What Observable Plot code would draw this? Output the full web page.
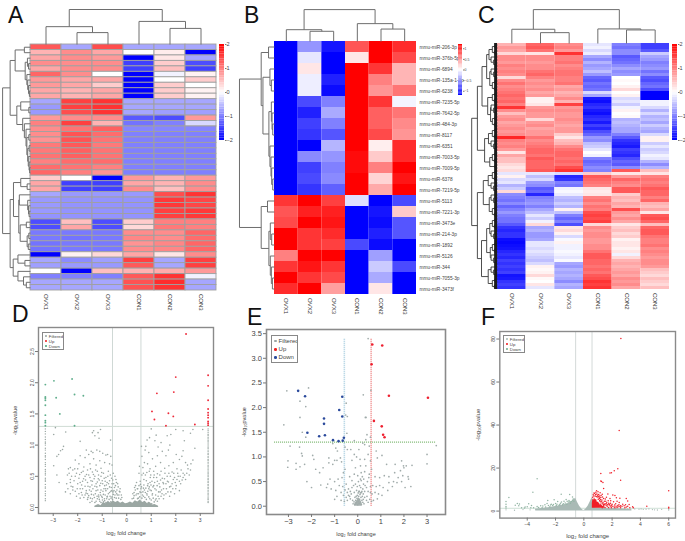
<!DOCTYPE html>
<html><head><meta charset="utf-8">
<style>
html,body{margin:0;padding:0;background:#fff;overflow:hidden}
#page{position:relative;width:685px;height:541px;font-family:"Liberation Sans",sans-serif;overflow:hidden}
.letter{position:absolute;font-size:23px;line-height:23px;color:#111}
.legend{position:absolute;border:1px solid #888;background:#fff;box-sizing:border-box;color:#444;padding:.5px 0 0 1px;white-space:nowrap;overflow:hidden}
.legend i{display:inline-block;border-radius:50%;margin:0 2px 0 1px;vertical-align:middle}
</style>
<script src="https://cdn.jsdelivr.net/npm/d3@7"></script>
<script src="https://cdn.jsdelivr.net/npm/@observablehq/plot@0.6"></script>
</head><body><div id="page"></div>
<script>
const samples = ["OVX1","OVX2","OVX3","CON1","CON2","CON3"];

// ---- Panel A values (rows x samples)
const heatA = [
[1.3,-.7,1.4,-.7,-.7,-.7],[.6,.9,.7,0,.15,-2],[.7,.9,.8,-2,.2,-.7],[.9,.9,.9,-1.5,.4,-1.4],[.7,.9,.9,-1.5,.5,-1.5],
[1.2,.9,0,-2,-.1,.1],[.8,.7,.7,-2,0,.4],[.8,.7,.4,-2,.4,0],[.7,.6,.7,-2,.4,.1],[.7,.6,.7,-2,.4,.1],
[-.7,1.5,1.6,-.7,-.7,-.7],[-.8,1.5,1.6,-.7,-.7,-.7],[-.8,1.4,1.6,-.7,-.75,-.75],
[.8,.9,.9,-1.3,-1.4,.8],[1,1.5,.6,-1.1,-1,-.3],
[.9,1.1,1.25,-.95,-.95,-.95],[.9,1.35,1.15,-1,-1,-1],[.85,1.35,1.1,-1,-1,-1],[1.05,1.3,1.05,-1,-1,-1],[1.05,1.25,1.1,-1,-1,-1],
[1.1,1.25,1.1,-1,-1,-1],[1,1.15,1.15,-1,-1,-1],[1.15,1.1,1,-1,-1,-1],[1.2,1,.85,-1,-1,-1],
[.4,0,-2,.8,.6,.8],[.7,-1.5,-1.5,.7,.6,.9],[.7,-1.5,-1.5,.9,.5,.9],
[-.7,-.8,-.8,-.8,1.4,1.6],[-.8,-.85,-.85,-.85,1.55,1.45],[-.8,-.85,-.85,-.85,1.55,1.45],[-.8,-.85,-.85,-.85,1.5,1.55],[-.85,-.85,-.85,-.85,1.5,1.55],
[-1.4,.5,-1.4,.4,1,1],[-1.4,.7,-1.4,.3,1.05,1],
[-1.05,-1.05,-1.05,.9,.9,1.2],[-1.05,-1.1,-1.05,.95,.9,1.15],[-1.1,-1.05,-1.05,.85,.95,1.2],[-1.1,-1.05,-1.05,.9,.95,1.2],
[-2,.1,.3,.7,.2,.9],[-.7,-.9,-.75,1.5,-.7,1.5],[-.75,-.8,-.8,1.3,-.7,1.5],[0,-2,.5,.6,.65,.8],
[-1,-1,-1,1.3,1.6,-.1],[-.7,-.7,-.7,1.35,1.65,-.7],[-.7,-.7,-.7,1.35,1.6,-.7]];

// ---- Panel B values
const mirnas = ["206-3p","376b-5p","6894","135a-1-3p","6238","7235-5p","7642-5p","484-3p","8117","6351","7003-5p","7009-5p","6378","7219-5p","5113","7221-3p","3473e","214-3p","1892","5126","344","7055-3p","3473f"];
const heatB = [
[-1.2,-.5,-1.1,.8,1.2,1],[-1.2,-.12,-1.2,.12,1.2,.85],[-1.2,.12,-1.2,1.2,.95,.35],[-1.2,-.08,-1.05,1.2,.6,.35],[-1.2,-.08,-1.15,1.2,.5,.65],
[-1.2,-.85,-.6,1.2,.95,-.05],[-1.2,-1.05,-.4,1.2,.75,.65],[-1.2,-.9,-.6,1.2,.75,.55],[-1.2,-.95,-.8,1.2,.85,.5],[-1.2,-1.2,-.35,1.2,.08,1],
[-1.2,-.55,-.5,1.15,.25,1],[-1.2,-.9,-.6,1.15,.6,1.2],[-1.2,-.85,-.55,1.2,.2,1.1],[-1.2,-.95,-.75,1.2,.4,1.2],
[.95,1.2,.9,-.15,-1.2,-.85],[.8,1.05,1.05,-1.2,-1.1,.25],[.85,1.2,1.1,-1.2,-1.15,-.8],[1.2,.95,1,-1.2,-1.05,-.8],[1.2,.95,.9,-.85,-1.15,-1.2],
[.6,1.2,1.2,-1.2,-.45,-1.2],[.95,1.1,.95,-1.2,-.25,-.85],[1.2,.95,.85,-1.2,-.4,-1.2],[1,1.2,.45,-1.2,.12,-1.2]];

// ---- Panel C values, one array per sample
const cOvx1 = [.6,.8,.7,.3,.9,.9,.8,1,.9,1,.9,.3,.9,1.1,.9,1,1.1,1.2,1.1,1.2,1,1.6,.9,.5,.8,.9,.7,.8,.9,.8,.9,1.7,1,.9,1,.8,.2,.7,.5,.5,.3,
.2,.3,-.2,.1,-.3,-.2,-.6,-.4,.3,-.9,-1,-1.1,-.9,-1.2,-1,-.8,-1,-1.1,-1.1,-1.3,-1.6,-1.7,-1.6,-1.6,-1.9,-1.95,-1.9,-1.85,-1.7,-1.6,-1.7,-1.5,-1.6,-1.5,-1.6,-1.5,-1.85,-1.8,-1.6,-1.5,-1.6];
const cOvx2 = [1.2,1.3,1.1,.2,.9,.9,.8,.9,.9,1.1,1.2,1,.8,.9,.8,.9,.7,.8,.1,.1,.2,.8,.9,.8,.8,.3,.8,.9,.7,.8,.8,1.1,.9,1,1.1,1.2,1.2,1.1,1.3,1.2,1.2,
1.2,1.3,-.2,-.5,-.3,-.8,-.9,-1.3,-1.2,-1.7,-1,-.9,-.8,-1,-.7,-.5,-.2,-.4,-.1,.3,-.7,-.6,-.8,-.8,-.7,-.2,-.2,-.3,-.2,-.3,-.4,-.5,-.3,.1,.05,.1,.3,.05,0,.2,-.2];
const cOvx3 = [.9,1,.8,1.6,1,1,1.1,.9,1,1.1,1.1,1,1,1.1,.7,.8,.6,.7,.9,.6,1.5,.8,.9,.8,.8,.9,.8,.7,.8,.8,.4,.2,.5,.6,.9,1.1,1.2,1.2,1.1,1.2,1.1,
1.4,1.6,-.3,-1.7,-1.6,-1,-1.1,-.1,-.05,-.15,-.5,-.6,-.4,-.6,.1,-.5,-1,-1.2,-1,-1.4,.2,.3,.1,-.3,-.05,.1,-.1,-.1,-.05,-.1,-.2,-.05,-.7,-.8,-.6,-.7,-.6,-.7,-.9,-.6,-.7];
const cCon1 = [-.2,-.1,-.3,-.15,-.7,-.9,-.6,-.8,-.7,-.5,-.8,-1.2,-1.3,-1.1,-1.2,-1.1,-.3,-.7,-1.8,-1.9,-1.7,-1.6,-1.8,-1.9,-1.7,-1.6,-1.8,-1.5,-1.7,-1.4,-1.2,-.8,-.9,-.5,-.4,-.2,0,-.1,-1,-1.2,-1.1,
-.9,-1,.4,1.3,1.2,1.1,1,.2,.15,.2,1,1.1,.9,1.1,1,1.4,1.5,1.4,1.5,.3,.9,.8,.9,.9,.8,.8,.9,.9,1.1,1.3,1.3,1.2,1.2,1.1,1.2,1.1,1.3,1.4,1.6,1.5,1.6];
const cCon2 = [-1,-1.1,-.9,-.9,-1.3,-1.2,-1.1,-.9,-.7,-.9,-.8,0,.05,0,.1,.3,0,.1,-.3,-.2,-.4,-.1,.1,0,.05,-.6,-.5,-.6,-.7,-.7,-1,-1.3,-1.6,-1.7,-1.8,-1.5,-1.6,-1.7,-1.4,-1.2,-1.3,
-.9,1.3,.2,.8,1.2,1,.9,1.3,1.3,.4,.6,.5,.7,.6,1.4,.8,.7,.9,.7,.2,.4,.5,.3,.4,.1,.2,.2,.1,.2,-.1,.3,.6,.7,.6,.7,.8,.7,.9,.8,.9,.7];
const cCon3 = [-1.5,-1.5,-1.3,-.4,-.7,-.8,-1,-.9,-.8,-1.1,-.9,-1.3,-1.4,-1.2,-1.1,-1.4,-2,-2,-2,-.1,-.1,-.3,-.6,-.3,-.6,-.5,-.7,-.4,-.6,-.7,-.3,.1,.1,-.4,-.2,-.4,-.3,-.1,-.2,-.6,-.9,
-.6,.5,.2,1,1.1,1,1.1,1.3,1.2,1.2,1,1.2,.6,.5,.7,.2,1.3,1.4,1.2,.5,1.2,1.3,1.3,1.1,1,1,1.1,.9,1,.9,.8,.9,.9,.8,.5,.4,.3,.5,.4,.3,.5];

// ---- Dendrograms: [height, left, right]; 0 is a leaf, height 1 is the root
const topA = [1,[.51,0,[.34,0,0]],[.66,0,[.46,0,0]]];
const topB = [1,[.37,0,[.32,0,0]],[.56,0,[.39,0,0]]];
const topC = [1,[.42,0,[.32,0,0]],[.43,0,[.4,0,0]]];
const a1=[.55,[.22,0,0],[.19,[.11,0,[.07,0,0]],[.13,0,[.1,0,[.07,0,[.04,0,0]]]]]];
const a2=[.35,0,[.06,0,0]];
const a3=[.28,0,[.22,0,[.16,0,[.13,[.06,0,0],[.1,[.05,0,0],[.08,0,[.05,0,[.03,0,0]]]]]]]];
const a4=[.35,0,[.12,0,0]];
const a5=[.4,0,[.1,0,[.07,0,[.05,0,0]]]];
const a6=[.37,[.15,0,0],[.12,[.06,0,0],[.08,0,0]]];
const a7=[.62,[.45,0,[.2,0,0]],[.45,0,[.25,0,[.15,0,0]]]];
const leftA = [1,[.73,a1,[.49,a2,a3]],[.73,[.61,a4,[.42,a5,a6]],a7]];
const leftB = [1,
 [.38,[.17,0,0],[.33,[.13,0,[.09,0,0]],[.16,[.09,0,[.07,0,[.05,0,0]]],[.13,0,[.1,0,[.08,0,[.05,0,0]]]]]]],
 [.38,[.2,0,0],[.16,[.12,0,[.08,0,0]],[.12,0,[.09,0,[.06,0,0]]]]]];
const q=[.2,[.1,0,0],[.12,0,0]], r=[.25,0,[.15,0,[.08,0,0]]], p2=[.1,0,0];
const leftC = [1,
 [.78,[.6,[.42,[.33,q,r],[.3,r,q]],[.38,q,[.27,r,q]]],[.5,[.35,q,r],[.3,q,p2]]],
 [.78,[.55,[.36,q,r],[.32,r,q]],[.62,[.42,[.3,q,r],[.28,q,r]],[.36,r,q]]]];

// ---- Panel D points [log2FC, -log10 p]
const dUp = [[2.42,2.78],[3.32,2.12],[2,2.09],[3.32,1.95],[1.92,1.85],[1.23,1.83],[3.32,1.72],[1.03,1.54],[3.32,1.58],[3.32,1.52],[1.7,1.51],[3.32,1.48],[1.9,1.46],[3.32,1.44],[1.13,1.41],[3.32,1.38],[3.32,1.35],[3.32,1.32],[1.6,1.31],[2.78,1.33]];
const dDown = [[-2.23,2.06],[-2.97,2.03],[-3.32,1.97],[-2.13,1.81],[-1.77,1.79],[-2.88,1.76],[-3.32,1.77],[-3.32,1.75],[-3.32,1.72],[-3.32,1.64],[-2.73,1.5],[-3.32,1.48],[-3.32,1.39],[-3.32,1.36],[-2.13,1.31],[-3.32,1.31]];
const dEdgeLeft = [.11,.14,.19,.22,.26,.31,.33,.37,.42,.44,.47,.52,.55,.58,.61,.66,.69,.72,.77,.81,.83,.87,.92,.95,1,1.03,1.05,1.09,1.13,1.18,1.22,1.26];
const dEdgeRight = [.08,.1,.13,.15,.17,.2,.22,.25,.27,.3,.32,.35,.37,.4,.42,.45,.47,.5,.52,.55,.57,.6,.62,.65,.67,.7,.72,.75,.77,.8,.82,.85,.87,.9,.92,.95,.97,1,1.02,1.05,1.07,1.1,1.12,1.15,1.17,1.2,1.23,1.26];
const dFiltered = [[-2.91,1.28],[-2.49,1.21],[-2.98,1.17],[-1.35,1.23],[-1.4,1.2],[-1.07,1.25],[-1.17,1.2],[-1.3,1.15],[-1.13,1.11],[-.66,1.08],[-1.9,1.06],[-2.58,.98],[-2.7,.91],[-2.78,.85],[-2.85,.82],[-2.62,.93],[-2.98,.67],[-2.85,.52],[-2.76,.4],[-2.5,.25],
[1,1.26],[2,1.25],[2.3,1.23],[2.6,1.19],[2.7,1.25],[3.1,1.25],[1.65,1.15],[1.8,1.17],[1.2,1.16],[.83,1.08],[.93,1.12],[1.15,1.07],[1.4,1.04],[1.76,1],[.6,.98],[.78,.98],[2.3,.91],[2.78,.95],[2.35,1.07],[2.25,.82],
[-1.65,.92],[-1.45,.9],[-1.38,.88],[-1.22,.92],[-1.1,.9],[-.98,.87],[-.85,.84],[-.78,.85],[-.65,.82],[-1.55,.85],[-1.7,.8],[-1.9,.83],[-2.1,.76],[-1.95,.7],[-1.35,.78],[-1.1,.75],[-.9,.72],[-.7,.7],[-.6,.68],[-1.5,.7],[-1.25,.68],[-1.05,.63],[-1.75,.65],[-2.3,.64],[-2.2,.6],[-2.35,.55],[-2.42,.52],[-2.25,.5],[-2.05,.55],[-1.85,.56],[-1.6,.6],[-1.4,.57],[-1.2,.58],[-.95,.55],[-.75,.58],[-.55,.55],[-.48,.5],[-.62,.47],[-.85,.48],[-1.05,.5],[-1.3,.5],[-1.5,.48],[-1.7,.5],[-1.95,.47],[-2.15,.43],[-2.3,.4],[-2.45,.38],[-2.2,.33],[-2,.38],[-1.8,.42],[-1.6,.4],[-1.4,.42],[-1.2,.41],[-1,.43],[-.8,.4],[-.6,.38],[-.42,.4],[-.35,.33],[-.5,.32],[-.7,.33],[-.9,.35],[-1.1,.35],[-1.3,.34],[-1.5,.33],[-1.7,.34],[-1.9,.3],[-2.1,.26],[-2.3,.22],[-2.05,.18],[-1.85,.24],[-1.65,.27],[-1.45,.26],[-1.25,.27],[-1.05,.28],[-.85,.27],[-.65,.26],[-.45,.25],[-.28,.25],[-.22,.2],[-.38,.2],[-.55,.21],[-.75,.22],[-.95,.21],[-1.15,.2],[-1.35,.2],[-1.55,.19],[-1.75,.16],[-1.6,.13],[-1.4,.14],[-1.2,.14],[-1,.16],[-.8,.17],[-.6,.17],[-.9,.11],[-1.1,.1],[-1.3,.08],[-1.5,.08],[-.72,.13],
[.45,.3],[.55,.42],[.62,.52],[.5,.55],[.66,.64],[.72,.72],[.62,.82],[.85,.7],[.95,.62],[1.05,.78],[1.25,.83],[1.45,.9],[1.6,.83],[1.38,.72],[1.18,.66],[.98,.52],[.82,.56],[.7,.45],[.6,.33],[.38,.2],[.48,.22],[.58,.24],[.72,.28],[.85,.35],[.95,.4],[1.1,.48],[1.25,.54],[1.4,.58],[1.55,.63],[1.72,.67],[1.9,.72],[2.15,.77],[2.05,.62],[1.85,.57],[1.65,.5],[1.45,.47],[1.25,.42],[1.1,.35],[.95,.28],[.82,.22],[.68,.18],[1.05,.22],[1.2,.28],[1.35,.33],[1.5,.38],[1.7,.41],[1.9,.45],[2.1,.5],[2.3,.55],[2.5,.62],[2.62,.7],[2.7,.76],[2.55,.52],[2.4,.45],[2.2,.38],[2,.3],[1.8,.25],[1.6,.22],[1.4,.18],[1.2,.14],[1,.12],[.8,.13],[1.5,.14],[1.75,.18],[1.95,.22],[2.15,.27],[.52,.66],[.9,.88],[.75,.92],[1.28,.97],[1.7,.92],[2.02,.85],[2.4,.72],[.4,.4],[.3,.24],[.32,.32]];
const dDense = [[-2.3,.45],[-2.1,.5],[-2,.62],[-1.9,.4],[-1.78,.58],[-1.68,.44],[-1.55,.52],[-1.48,.62],[-1.42,.36],[-1.33,.46],[-1.25,.38],[-1.15,.52],[-1.12,.44],[-.98,.38],[-.93,.3],[-.88,.42],[-.77,.5],[-.7,.43],[-.63,.32],[-.57,.44],[-.52,.27],[-.46,.35],[-.4,.28],[-.32,.2],[-.27,.3],[-.2,.16],[-1.8,.3],[-1.6,.22],[-1.52,.28],[-1.38,.3],[-1.28,.22],[-1.18,.28],[-1.08,.24],[-1.02,.18],[-.97,.26],[-.88,.2],[-.82,.14],[-.78,.3],[-.68,.18],[-.58,.13],[-.5,.16],[-.43,.15],[-1.25,.1],[-1.12,.13],[-1.05,.08],[-.95,.09],[-.85,.08],[-.75,.07],[-.65,.09],[-1.42,.1],[-1.7,.2],[-1.95,.22],[-2.2,.28],[-2.4,.3],
[.25,.22],[.28,.15],[.35,.28],[.42,.22],[.44,.14],[.5,.35],[.53,.17],[.58,.3],[.62,.15],[.66,.25],[.7,.36],[.74,.16],[.78,.31],[.8,.43],[.86,.26],[.9,.17],[.92,.33],[.96,.48],[1,.27],[1.03,.42],[1.08,.15],[1.1,.58],[1.15,.3],[1.18,.2],[1.22,.48],[1.3,.25],[1.32,.38],[1.35,.52],[1.42,.28],[1.48,.4],[1.52,.2],[1.56,.55],[1.62,.3],[1.66,.42],[1.75,.33],[1.78,.5],[1.85,.38],[1.92,.55],[1.98,.4],[2.05,.45],[2.15,.42],[2.22,.6],[2.3,.48],[2.45,.55],[2.6,.6],[1.02,.06],[1.12,.09],[1.25,.1],[1.32,.14],[.88,.08],[.72,.08],[.6,.07],[.48,.08],
[-2.38,.62],[-2.27,.34],[-2.12,.62],[-2.02,.3],[-1.92,.53],[-1.84,.36],[-1.76,.46],[-1.64,.53],[-1.58,.34],[-1.46,.43],[-1.36,.53],[-1.27,.6],[-1.22,.33],[-1.16,.46],[-1.06,.39],[-1.02,.56],[-.92,.47],[-.83,.36],[-.74,.38],[-.67,.52],[-.61,.27],[-.53,.38],[-.44,.45],[-.37,.38],[-.3,.26],[-.24,.13],[-.33,.15],[-.41,.22],[-.48,.2],[-.56,.25],[-.64,.15],[-.7,.24],[-.79,.18],[-.86,.3],[-.91,.14],[-.99,.12],[-1.07,.2],[-1.14,.17],[-1.21,.18],[-1.32,.16],[-1.44,.21],[-1.48,.15],[-1.58,.16],[-1.66,.23],[-1.82,.2],[-1.9,.15],
[.22,.14],[.3,.19],[.36,.35],[.43,.3],[.47,.15],[.54,.25],[.56,.37],[.64,.2],[.68,.31],[.76,.24],[.83,.2],[.87,.38],[.9,.3],[.94,.14],[.99,.36],[1.04,.2],[1.07,.33],[1.14,.4],[1.17,.12],[1.24,.35],[1.28,.18],[1.36,.25],[1.38,.44],[1.44,.22],[1.5,.3],[1.54,.46],[1.6,.38],[1.68,.25],[1.72,.55],[1.8,.34],[1.88,.3],[1.95,.48],[2.02,.35],[2.08,.55],[2.18,.5],[2.26,.44],[2.36,.52],[2.48,.68],[1.12,.52],[.92,.58],[.76,.52],[.68,.55]];
const dCoreX = [-1.3,-1.15,-1.05,-.95,-.85,-.75,-.65,-.55,-.45,-.35,-.25,-.15,-.05,.05,.15,.25,.35,.45,.55,.65,.75,.85,.95,1.05,1.15,1.3];
const dCoreTop = [.02,.05,.03,.08,.06,.1,.07,.11,.08,.1,.07,.09,.06,.07,.09,.07,.11,.09,.12,.08,.1,.06,.08,.04,.05,.02];

// ---- Panel E points
const eUp = [[.63,3.28],[1.06,3.26],[.6,2.88],[1.35,2.24],[3.04,2.2],[.7,1.73],[1.04,1.62],[1.1,1.45],[1.16,1.4]];
const eDown = [[-2.58,2.34],[-2.28,2.23],[-.67,2.22],[-.8,1.95],[-.67,1.82],[-1.46,1.78],[-1.46,1.67],[-2.18,1.49],[-1.42,1.44],[-1.67,1.42],[-1.07,1.34],[-.83,1.32],[-.65,1.33],[-.6,1.39]];
const eFiltered = [[.45,3.4],[.57,2.35],[.24,2.26],[-3.07,2.34],[-2.13,2.4],[-2.5,2.13],[-2.25,2.02],[-.5,2.09],[-.52,1.85],[-2.5,1.8],[-3.2,1.65],[.33,1.8],[.36,1.8],[-.45,1.82],[-2.4,1.5],[-2.25,1.4],[-.47,1.48],[.4,1.45],[.35,1.35],[-.15,1.33],[.55,1.4],
[3.4,1.23],[-2.93,1.22],[-2.52,1.2],[-2.43,1.07],[-2.4,1.02],[-1.95,1.03],[-1.9,.95],[-3.02,.92],[-3.03,.79],[-2.67,.87],[-2.67,.75],[-2.5,.8],[-2.3,.85],[-1.82,.75],[-1.65,.68],[-1.5,.78],[-1.25,.98],[-1.25,.88],[-1.08,.85],[-1,.93],[-.9,.93],[-.75,.98],[-.7,.9],[-1.08,1.27],[-.95,1.18],[-.88,1.12],[-.55,1.2],[-.45,1.15],[-.3,1.15],[-.15,1.05],[-.05,1],[.05,1.15],[.22,1.28],[.3,1.25],[.5,1.22],[.1,.95],[.3,.95],[.45,1.05],[.55,.92],[.35,.82],[.12,.82],[-.1,.78],[-.25,.93],[.8,1.12],[.85,.98],[1.05,1.03],[1.25,.85],[1.62,.85],[1.9,.92],[1.98,.82],[3,1.05],[3,.86],[2.35,.83],[2.1,.82],[2,.78],[1.85,.72],[1.6,.68],[1.35,.6],[1.15,.62],[.95,.58],[.75,.6],[.6,.75],[.5,.65],[.3,.7],[.15,.68],[0,.62],[-.15,.65],[-.35,.6],[-.55,.75],[-.62,.68],[-.68,.58],[-.85,.55],[-1,.5],[-1.2,.55],[-1.3,.45],[-1.6,.43],[-2.2,.5],[-2,.38],[-1.35,.38],[-1.15,.35],[-.95,.32],[-.8,.42],[-.65,.4],[-.5,.45],[-.4,.35],[-.25,.38],[-.1,.45],[.03,.5],[.15,.52],[.25,.45],[.38,.38],[.55,.4],[.65,.42],[.8,.4],[.95,.42],[1.1,.38],[1.3,.32],[1.5,.4],[1.7,.48],[1.9,.5],[2.2,.55],[2.3,.4],[2.05,.38],[2.18,.6],[1.95,.62],[1.75,.58],[1.55,.5],[1.35,.48],[.75,.28],[.9,.25],[1.05,.22],[.62,.25],[.55,.28],[.45,.3],[.4,.2],[.3,.3],[.22,.35],[.13,.38],[.05,.3],[-.05,.32],[-.15,.28],[-.28,.25],[-.4,.22],[-.5,.18],[-.62,.22],[-.72,.28],[-.9,.2],[-1,.14],[-.72,.12],[-.58,.1],[-.45,.12],[-.32,.15],[-.22,.12],[-.12,.18],[.3,.18],[.38,.12],[.52,.14],[.6,.1],[.68,.12],[.85,.15],[.45,.08],
[.08,.42],[.18,.3],[.2,.6],[.26,.55],[.12,.55],[-.02,.4],[.24,.25],[.32,.42],[-.32,.3],[-.18,.42],[-.45,.28],[-.55,.33],[-.35,.2],[-.25,.52],[.42,.5],[.48,.58],
[-.2,.05],[-.16,.09],[-.12,.04],[-.09,.12],[-.06,.07],[-.03,.16],[0,.03],[.02,.1],[.04,.2],[.06,.06],[.08,.14],[.1,.24],[.12,.08],[.14,.18],[.16,.04],[.18,.12],[.2,.2],[.22,.08],[.24,.14],[.27,.05],[-.02,.22],[.02,.27],[.07,.3],[.12,.27],[-.07,.2],[.16,.28]];
const eCoreX = [-.14,-.08,-.02,.04,.1,.16,.2];
const eCoreTop = [.03,.08,.12,.17,.14,.09,.03];

// ---- Panel F points
const fUp = [[2.62,80.3],[2.5,37.5],[2.4,19.7],[2.15,18.7],[1.95,17.8],[1.85,17.7],[1.2,17.5],[2.6,14.3],[1.2,14],[1.35,13.3],[1.25,13.7],[6,9.5],[6,1.8],[1.4,10.5],[.9,9.5],[1,9],[.85,8.8],[1.15,8.5],[1.05,7.7],[1.3,7.8],[1.7,8],[2.05,7.5],[2.2,7.2],[2.55,6],[2.3,6.2],[1.85,5.8],[1.6,6.4],[1.4,5.8],[1.2,6.3],[1.1,5.9],[1.9,4.8],[2.1,4.3],[2.35,4.6],[2.5,4],[2.25,3.4],[3,5.8],[3.1,4.7],[3.2,3.1],[1.55,4.6],[1.75,3.6],[1.5,3.4],[1.35,4],[2,3.2],[2.85,2.5],[3.1,2.3],[3.45,2],[3.5,1.6],[4.45,2.3],[2.7,2.2],[2.4,2.6],[2.05,2.2],[1.85,2.5],[1.65,2.2],[1.4,2.5],[1.2,2.8],[1.05,3.5],[1.15,4.5],[.95,6.5],[.8,7],[1.75,1.7],[1.95,1.6],[2.15,1.9],[2.35,1.7],[2.6,1.6],[2.9,1.6],[3.25,1.6],[1.5,1.7],[1.3,1.6],[6,1.4],
[1.28,5.2],[1.45,4.6],[1.62,3.9],[1.72,4.8],[1.82,3.2],[1.95,2.7],[2.18,2.8],[2.28,2.3],[2.48,3],[2.55,2.1],[2.75,3.2],[2.95,3],[3,1.9],[1.48,2.9],[1.58,2.7],[1.78,2.9],[1.02,6.8],[1.22,7.2],[1.32,6.6],[1.12,7],[.92,8],[.72,8.4],[1.52,5.6],
[.66,7.6],[.76,8.2],[.84,7.7],[.98,7.4],[1.08,6.4],[1.18,5.4],[1.26,4.6],[1.34,3.4],[1.42,3.2],[1.58,3.4],[1.68,2.9],[1.88,3.6],[.62,6.4],[.7,7],[.88,6.8],[1.02,5.5],[1.12,4.9],[1.22,3.8],[1.38,2.9],[1.92,2],[2.2,1.6],[2.42,2],[2.6,2.5],[1.12,2.3],[.98,2.8]];
const fRedX = [.6,.64,.7,.76,.82,.9,.96,1.04,1.12,1.22,1.34,1.5];
const fRedTop = [3.4,5.6,5,6.2,5.2,5.4,4,4.2,3,3,2.2,1.9];
const fDown = [[-3.3,15],[-3.6,8.7],[-5.3,6.3],[-5.5,4.5],[-5.5,3.2],[-5.5,2.1],[-5.5,1.4],[-1.6,7.8],[-1,7.7],[-.8,6.5],[-4.7,3.5],[-4.55,3.3],[-4.85,2.7],[-4.6,2.5],[-4,2],[-3.9,3.4],[-3.7,2.6],[-3.3,2.1],[-3.05,2.5],[-2.9,2.4],[-2.75,2.9],[-2.55,4.9],[-2.6,3.5],[-2.3,3.2],[-2.1,5.3],[-2.4,2],[-2,3.5],[-1.85,4.4],[-1.65,3.6],[-1.5,2.9],[-1.4,4.6],[-1.25,5.4],[-1.1,4.2],[-.95,3.6],[-.8,5],[-4.4,1.6],[-4.2,1.4],[-3.55,1.5],[-2.95,1.5],[-2.2,2.6],[-1.75,2.7],
[-3.2,1.7],[-2.7,1.9],[-2.5,2.6],[-2.35,2.8],[-2.15,3.1],[-1.95,2.6],[-1.9,3.2],[-1.7,3.1],[-1.58,4.2],[-1.45,3.4],[-1.32,3.8],[-1.2,3.2],[-1.18,4.6],[-1.05,4.9],[-.98,4.4],[-.88,4.4],[-.75,5.6],[-.7,4.6],[-4.15,1.9],[-3.75,1.6]];
const fFiltered = [[-5.5,.6],[-4.9,.4],[-4.3,.7],[-3.8,.6],[-3.4,.8],[-3.1,.9],[-2.8,.9],[3.6,1],[3.9,.9],[4.05,1],[4.2,.8],[4.4,.9],[4.6,1],[4.85,.7],[5,.6],[5.2,.5],[5.5,.8],[6,1],[6,.5],[3.3,.9],[3.1,1],[2.9,.9]];
const fGreyX = [-3.4,-3,-2.5,-2,-1.5,-1.1,-.8,-.58,-.45,-.3,-.15,-.05,0,.05,.15,.3,.45,.58,.8,1.2,1.7,2.2,2.8,3.4];
const fGreyTop = [.9,1.2,1.6,2.1,2.7,3.5,4.6,6,4.1,2.3,1,.4,.3,.4,1,2.3,4.2,6.2,1.5,1.3,1.3,1.2,1,.6];

// ---- Helpers
const page = document.getElementById("page");
const put = (el,left,top) => {el.style.position="absolute";el.style.left=left+"px";el.style.top=top+"px";el.style.background="none";el.style.maxWidth="none";el.style.overflow="visible";el.style.fontFamily='"Liberation Sans",sans-serif';page.appendChild(el);};
const ramp = ["#0000ff","#ffffff","#ff0000"];
function segments(tree, horizontal, band){
  const out=[]; let i=0;
  const pt=(p,h)=> horizontal ? {x:-h*band,y:p} : {x:p,y:-h*band};
  (function walk(n){
    if(!n) return {p:i++ +.5,h:0};
    const a=walk(n[1]), b=walk(n[2]);
    const A=pt(a.p,n[0]),B=pt(b.p,n[0]),a0=pt(a.p,a.h),b0=pt(b.p,b.h);
    out.push({s:A,e:B},{s:A,e:a0},{s:B,e:b0});
    return {p:(a.p+b.p)/2,h:n[0]};
  })(tree);
  return {links:out,leaves:i};
}
function link(tree,horizontal,band,stroke,w){
  return Plot.link(segments(tree,horizontal,band).links,{x1:d=>d.s.x,y1:d=>d.s.y,x2:d=>d.e.x,y2:d=>d.e.y,stroke,strokeWidth:w});
}
function heat(c){
  const cells=c.rows.flatMap((row,i)=>row.map((v,j)=>({i,j,v})));
  const n=c.rows.length;
  if(segments(c.left,true,1).leaves!==n) throw new Error("tree leaves "+segments(c.left,true,1).leaves+" vs "+n);
  const marks=[
    Plot.rect(cells,{x1:"j",x2:d=>d.j+1,y1:"i",y2:d=>d.i+1,fill:"v",stroke:c.grid||"none",strokeWidth:c.grid?.9:0}),
    link(c.top,false,c.topBand,c.treeColor,1),
    link(c.left,true,c.leftBand,c.leftColor||c.treeColor,c.leftW||1),
    Plot.text(samples,{x:(d,i)=>i+.5,y:n,dy:3.5,text:d=>d,rotate:90,textAnchor:"start",fontSize:6,fill:"#333",fontFamily:"Liberation Sans"})
  ];
  if(c.extra) marks.push(...c.extra(n));
  const p=Plot.plot({width:c.right+30+30,height:c.bottom+22,
    marginLeft:30,marginRight:60,marginTop:c.y0,marginBottom:22,
    x:{domain:[0,6],axis:null,range:[30,c.right-c.left0+30]},
    y:{domain:[0,n],axis:null,reverse:false,range:[c.y0,c.bottom]},
    color:{type:"linear",domain:[-c.max,0,c.max],range:ramp,clamp:true},
    marks});
  put(p,c.left0-30,0);
}
function colorbar(c){
  const step=(c.domain[1]-c.domain[0])/40;
  const p=Plot.plot({width:c.w+14,height:c.h+8,marginLeft:0,marginRight:14,marginTop:4,marginBottom:4,
    x:{domain:[0,1],axis:null},
    y:{domain:c.domain},
    color:{type:"linear",domain:[c.domain[0],0,c.domain[1]],range:ramp},
    marks:[
      Plot.rect(d3.range(0,40).map(i=>c.domain[0]+i*step),{x1:0,x2:1,y1:d=>d,y2:d=>d+step,fill:d=>d+step/2}),
      Plot.axisY({anchor:"right",ticks:c.ticks,label:null,tickSize:1.5,tickPadding:.5,fontSize:c.font,stroke:"#777",fill:"#444",tickFormat:d=>String(d).replace("-","−")})
    ]});
  put(p,c.x,c.y-4);
}
function legend(left,top,w,h,fs,dot,items){
  const d=document.createElement("div");d.className="legend";
  d.style.left=left+"px";d.style.top=top+"px";d.style.width=w+"px";d.style.height=h+"px";
  d.style.fontSize=fs+"px";d.style.lineHeight=((h-3)/3)+"px";
  d.innerHTML=items.map(([t,col])=>`<div><i style="background:${col};width:${dot}px;height:${dot}px"></i>${t}</div>`).join("");
  page.appendChild(d);
}
function volcano(c){
  const W=c.x1-c.left+8, H=c.bottom-c.top+c.mb+c.mt;
  const pts=(arr,fill,r)=>Plot.dot(arr,{x:d=>d[0],y:d=>d[1],r,fill,stroke:"none"});
  const p=Plot.plot({width:W,height:H,marginLeft:c.x0-c.left,marginRight:8,marginTop:c.mt,marginBottom:c.mb,
    x:{domain:c.xd},y:{domain:c.yd},
    marks:[...c.marks(pts),
      Plot.frame({stroke:"#8a8a8a",strokeWidth:c.frameW||1.4}),
      Plot.axisX({ticks:c.xt,tickSize:c.tick,tickPadding:1.5,fontSize:c.fx,stroke:"#777",fill:"#444",label:null,tickFormat:d3.format("d")}),
      Plot.axisY({ticks:c.yt,tickSize:c.tick,tickPadding:1.5,fontSize:c.fy,stroke:"#777",fill:"#444",textAnchor:c.yRot?"middle":undefined,tickRotate:c.yRot?-90:0,label:null,tickFormat:c.yf}),
      Plot.text(["log₂ fold change"],{frameAnchor:"bottom",dy:c.xlab,fontSize:c.flab,fill:"#444",lineAnchor:"middle"}),
      Plot.text(["-log₁₀pvalue"],{frameAnchor:"left",dx:-c.ylab,rotate:-90,fontSize:c.flab,fill:"#444",textAnchor:"middle"})
    ]});
  put(p,c.left,c.top-c.mt);
}

// ---- Panels
heat({rows:heatA,left0:30,right:216,y0:44,bottom:290,max:2,grid:"#a0a0a0",top:topA,left:leftA,topBand:6.4,leftBand:.9,treeColor:"#6e6e6e"});
colorbar({x:219,y:44,w:5,h:96,domain:[-2,2],ticks:[-2,-1,0,1,2],font:5.5});

heat({rows:heatB,left0:274,right:416,y0:41,bottom:294,max:1.2,top:topB,left:leftB,topBand:2.9,leftBand:1.48,treeColor:"#6e6e6e",
 extra:n=>[Plot.text(mirnas,{x:6,y:(d,i)=>i+.5,dx:3,text:d=>"mmu-miR-"+d,textAnchor:"start",fontSize:4.8,fill:"#444",fontFamily:"Liberation Sans"})]});
colorbar({x:458,y:44,w:4,h:51,domain:[-1.2,1.2],ticks:[-1,-.5,0,.5,1],font:3.5});

const heatC = cOvx1.map((_,i)=>[cOvx1[i],cOvx2[i],cOvx3[i],cCon1[i],cCon2[i],cCon3[i]]);
heat({rows:heatC,left0:497,right:669,y0:43,bottom:289,max:2,top:topC,left:leftC,topBand:11.3,leftBand:.9,treeColor:"#6e6e6e",leftColor:"#3a3a3a",leftW:.9,
 extra:n=>[Plot.rect([0],{x1:-.1,x2:0,y1:0,y2:n,fill:"#1c1c1c"})]});
colorbar({x:672,y:44,w:5,h:96,domain:[-2,2],ticks:[-2,-1,0,1,2],font:5.5});

const dGrey="#9ba7a3";
volcano({left:0,x0:38,x1:213,top:327,bottom:513,mt:4,mb:28,xd:[-3.6,3.54],yd:[-.096,2.885],xt:[-3,-2,-1,0,1,2,3],yt:[0,.5,1,1.5,2,2.5],tick:3,fx:5,fy:5,flab:5.5,yRot:true,yf:d3.format(".1f"),xlab:20,ylab:23,
 marks:pts=>[
  Plot.ruleX([-.58,.58],{stroke:"#cfd8d5",strokeWidth:1}),
  Plot.ruleY([1.3],{stroke:"#cfdcd4",strokeWidth:1}),
  Plot.areaY(dCoreX,{x:d=>d,y1:0,y2:(d,i)=>dCoreTop[i],fill:dGrey}),
  pts(dFiltered,dGrey,.8),pts(dDense,dGrey,.8),
  pts(dEdgeLeft.map(y=>[-3.32,y]),dGrey,.7),
  pts(dEdgeRight.map(y=>[3.32,y]),dGrey,.7),
  pts(dUp,"#ee2a3a",.95),pts(dDown,"#5fae8c",.95)]});
legend(42,332,22,18,4.3,1.8,[["Filtered",dGrey],["Up","#ee2020"],["Down","#4aa57c"]]);

volcano({left:230,x0:266,x1:445,top:329,bottom:514,mt:4,mb:27,xd:[-3.95,3.8],yd:[-.168,3.584],xt:[-3,-2,-1,0,1,2,3],yt:[0,.5,1,1.5,2,2.5,3,3.5],tick:3,fx:7.5,fy:7.5,flab:5.5,yf:d3.format(".1f"),xlab:20,ylab:22,frameW:1.6,
 marks:pts=>[
  Plot.ruleX([-.58],{y1:0,y2:3.4,stroke:"#a8cde0",strokeWidth:1.6,strokeDasharray:"1 1"}),
  Plot.ruleX([.58],{y1:0,y2:3.4,stroke:"#f08a8a",strokeWidth:1.6,strokeDasharray:"1 1"}),
  Plot.ruleY([1.3],{x1:-3.6,x2:3.4,stroke:"#7cb870",strokeWidth:1.2,strokeDasharray:"1 1"}),
  Plot.areaY(eCoreX,{x:d=>d,y1:0,y2:(d,i)=>eCoreTop[i],fill:"#a6b0ae"}),
  pts(eFiltered,"#a0abaa",.85),
  pts(eUp,"#ee2030",1.3),pts(eDown,"#2b4a9c",1.3)]});
legend(271,335,27,28,6,2.6,[["Filtered","#9aa5a3"],["Up","#ee2020"],["Down","#2b4a9c"]]);

const fG="#a9bab5";
volcano({left:460,x0:499.3,x1:675,top:330.7,bottom:517.3,mt:4,mb:23.7,xd:[-5.94,6.48],yd:[-3.26,83.5],xt:[-4,-2,0,2,4,6],yt:[0,20,40,60,80],tick:3,fx:5,fy:5,flab:6,yRot:true,yf:d3.format("d"),xlab:18,ylab:22,
 marks:pts=>[
  Plot.ruleX([-.58,.58],{stroke:"#d4d9d8",strokeWidth:1}),
  Plot.ruleY([1.3],{stroke:"#cfe0d6",strokeWidth:1}),
  Plot.areaY(fGreyX,{x:d=>d,y1:0,y2:(d,i)=>fGreyTop[i],fill:fG}),
  pts(fFiltered,fG,.65),pts(fDown,"#93b5a4",.75),
  Plot.areaY(fRedX,{x:d=>d,y1:1.3,y2:(d,i)=>fRedTop[i],fill:"#f01c24"}),
  pts(fUp,"#f0222c",.75)]});
legend(503,335,22,18,4.3,1.8,[["Filtered",fG],["Up","#ee2020"],["Down","#6fae8c"]]);

[["A",8,4],["B",244,4],["C",478,4],["D",12,303],["E",247,306],["F",481,306]].forEach(([t,x,y])=>{
  const d=document.createElement("div");d.className="letter";d.textContent=t;d.style.left=x+"px";d.style.top=y+"px";page.appendChild(d);});
</script></body></html>
